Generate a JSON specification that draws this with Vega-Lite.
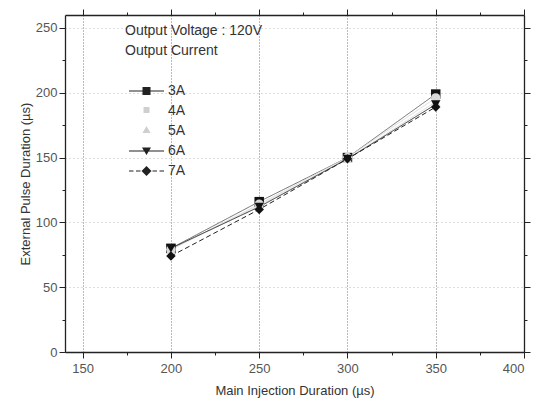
{
 "$schema": "https://vega.github.io/schema/vega-lite/v6.json",
 "width": 459, "height": 337,
 "autosize": "none",
 "padding": {"left": 65, "top": 15, "right": 16, "bottom": 47},
 "background": "white",
 "config": {"font": "Liberation Sans", "view": {"stroke": null}},
 "data": {"values": [
  {"current": "3A", "main": 200, "ext": 80}, {"current": "3A", "main": 250, "ext": 116}, {"current": "3A", "main": 300, "ext": 150}, {"current": "3A", "main": 350, "ext": 199},
  {"current": "4A", "main": 200, "ext": 79}, {"current": "4A", "main": 250, "ext": 114}, {"current": "4A", "main": 300, "ext": 150}, {"current": "4A", "main": 350, "ext": 196},
  {"current": "5A", "main": 200, "ext": 79}, {"current": "5A", "main": 250, "ext": 113}, {"current": "5A", "main": 300, "ext": 149}, {"current": "5A", "main": 350, "ext": 193},
  {"current": "6A", "main": 200, "ext": 80}, {"current": "6A", "main": 250, "ext": 112}, {"current": "6A", "main": 300, "ext": 149}, {"current": "6A", "main": 350, "ext": 191},
  {"current": "7A", "main": 200, "ext": 74}, {"current": "7A", "main": 250, "ext": 110}, {"current": "7A", "main": 300, "ext": 149}, {"current": "7A", "main": 350, "ext": 189}
 ]},
 "layer": [
  {
   "mark": {"type": "line", "strokeWidth": 1},
   "encoding": {
    "x": {"field": "main", "type": "quantitative", "scale": {"domain": [150, 400]},
     "axis": {"orient": "bottom", "title": "Main Injection Duration (µs)", "values": [150,175,200,225,250,275,300,325,350,375,400],
      "labelExpr": "datum.value % 50 === 0 ? datum.label : ''",
      "tickSize": {"condition": {"test": "datum.value % 50 === 0", "value": 6}, "value": 3},
      "tickColor": "#222", "domainColor": "#222", "domainWidth": 1.3,
      "labelFont": "Liberation Sans", "labelFontSize": 13, "labelColor": "#555", "labelPadding": 4,
      "titleFont": "Liberation Sans", "titleFontSize": 13, "titleFontWeight": "normal", "titleColor": "#333", "titlePadding": 9,
      "grid": true, "gridColor": "#777", "gridDash": [1, 2],
      "gridOpacity": {"condition": {"test": "datum.value % 50 === 0", "value": 1}, "value": 0}}},
    "y": {"field": "ext", "type": "quantitative", "scale": {"domain": [0, 250]},
     "axis": {"orient": "left", "title": "External Pulse Duration (µs)", "values": [0,25,50,75,100,125,150,175,200,225,250],
      "labelExpr": "datum.value % 50 === 0 ? datum.label : ''",
      "tickSize": {"condition": {"test": "datum.value % 50 === 0", "value": 6}, "value": 3},
      "tickColor": "#222", "domainColor": "#222", "domainWidth": 1.3,
      "labelFont": "Liberation Sans", "labelFontSize": 13, "labelColor": "#555", "labelPadding": 2,
      "titleFont": "Liberation Sans", "titleFontSize": 13, "titleFontWeight": "normal", "titleColor": "#333", "titlePadding": 3,
      "grid": true, "gridColor": "#bbb", "gridDash": [1, 3],
      "gridOpacity": {"condition": {"test": "datum.value % 50 === 0", "value": 1}, "value": 0}}},
    "detail": {"field": "current"},
    "stroke": {"field": "current", "type": "nominal", "legend": null,
     "scale": {"domain": ["3A","4A","5A","6A","7A"], "range": ["#6a6a6a","#dddddd","#dddddd","#333333","#222222"]}},
    "strokeDash": {"field": "current", "type": "nominal", "legend": null,
     "scale": {"domain": ["3A","4A","5A","6A","7A"], "range": [[1,0],[1,0],[1,0],[1,0],[5,3]]}}
   }
  },
  {
   "mark": {"type": "point", "filled": true, "size": 90, "opacity": 1},
   "encoding": {
    "x": {"field": "main", "type": "quantitative", "axis": null},
    "y": {"field": "ext", "type": "quantitative", "axis": null},
    "shape": {"field": "current", "type": "nominal", "legend": null,
     "scale": {"domain": ["3A","4A","5A","6A","7A"], "range": ["square","circle","triangle-up","triangle-down","diamond"]}},
    "fill": {"field": "current", "type": "nominal", "legend": null,
     "scale": {"domain": ["3A","4A","5A","6A","7A"], "range": ["#111111","#d8d8d8","#d8d8d8","#111111","#111111"]}}
   }
  },
  {
   "mark": {"type": "point", "filled": true, "opacity": 0, "color": "#222222"},
   "encoding": {
    "x": {"field": "main", "type": "quantitative", "axis": null},
    "y": {"field": "ext", "type": "quantitative", "axis": null},
    "shape": {"field": "current", "type": "nominal",
     "scale": {"domain": ["3A","4A","5A","6A","7A"], "range": [
      "M-3.5,-0.12H3.5V0.12H-3.5Z M-0.8,-0.8H0.8V0.8H-0.8Z",
      "M0,0Z",
      "M0,0Z",
      "M-3.5,-0.12H3.5V0.12H-3.5Z M-0.9,-0.7L0.9,-0.7L0,0.8Z",
      "M-3.5,-0.12H-2.6V0.12H-3.5Z M-2.1,-0.12H-1.2V0.12H-2.1Z M1.2,-0.12H2.1V0.12H1.2Z M2.6,-0.12H3.5V0.12H2.6Z M0,-1L1,0L0,1L-1,0Z"]},
     "legend": {"orient": "none", "legendX": 60, "legendY": 9,
      "title": ["Output Voltage : 120V", "Output Current"],
      "titleFont": "Liberation Sans", "titleFontSize": 14, "titleFontWeight": "normal", "titleColor": "#333", "titleLineHeight": 20, "titlePadding": 26,
      "labelFont": "Liberation Sans", "labelFontSize": 14, "labelColor": "#333", "labelOffset": 14.5,
      "symbolSize": 100, "symbolOffset": 14.5, "symbolStrokeWidth": 0, "rowPadding": 6, "symbolOpacity": 1}}
   }
  },
  {
   "mark": {"type": "point", "filled": true, "opacity": 0, "color": "#cfcfcf"},
   "encoding": {
    "x": {"field": "main", "type": "quantitative", "axis": null},
    "y": {"field": "ext", "type": "quantitative", "axis": null},
    "shape": {"field": "current", "type": "nominal",
     "scale": {"domain": ["3A","4A","5A","6A","7A"], "range": [
      "M0,0Z",
      "M-0.6,-0.6H0.6V0.6H-0.6Z",
      "M0,-0.8L0.8,0.6H-0.8Z",
      "M0,0Z",
      "M0,0Z"]},
     "legend": {"orient": "none", "legendX": 60, "legendY": 68, "title": null,
      "labelFont": "Liberation Sans", "labelFontSize": 14, "labelColor": "#333", "labelOpacity": 0, "labelOffset": 14.5,
      "symbolSize": 100, "symbolOffset": 14.5, "symbolStrokeWidth": 0, "rowPadding": 6, "symbolOpacity": 1}}
   }
  },
  {
   "mark": {"type": "point", "opacity": 0},
   "encoding": {
    "x": {"field": "main", "type": "quantitative",
     "axis": {"orient": "top", "title": null, "labels": false, "grid": false, "values": [150,175,200,225,250,275,300,325,350,375,400],
      "tickSize": {"condition": {"test": "datum.value % 50 === 0", "value": 6}, "value": 3},
      "tickColor": "#222", "domainColor": "#222", "domainWidth": 1.3}},
    "y": {"field": "ext", "type": "quantitative",
     "axis": {"orient": "right", "title": null, "labels": false, "grid": false, "values": [0,25,50,75,100,125,150,175,200,225,250],
      "tickSize": {"condition": {"test": "datum.value % 50 === 0", "value": 6}, "value": 3},
      "tickColor": "#222", "domainColor": "#222", "domainWidth": 1.3}}
   }
  }
 ],
 "resolve": {"axis": {"x": "independent", "y": "independent"}, "scale": {"shape": "independent"}}
}
